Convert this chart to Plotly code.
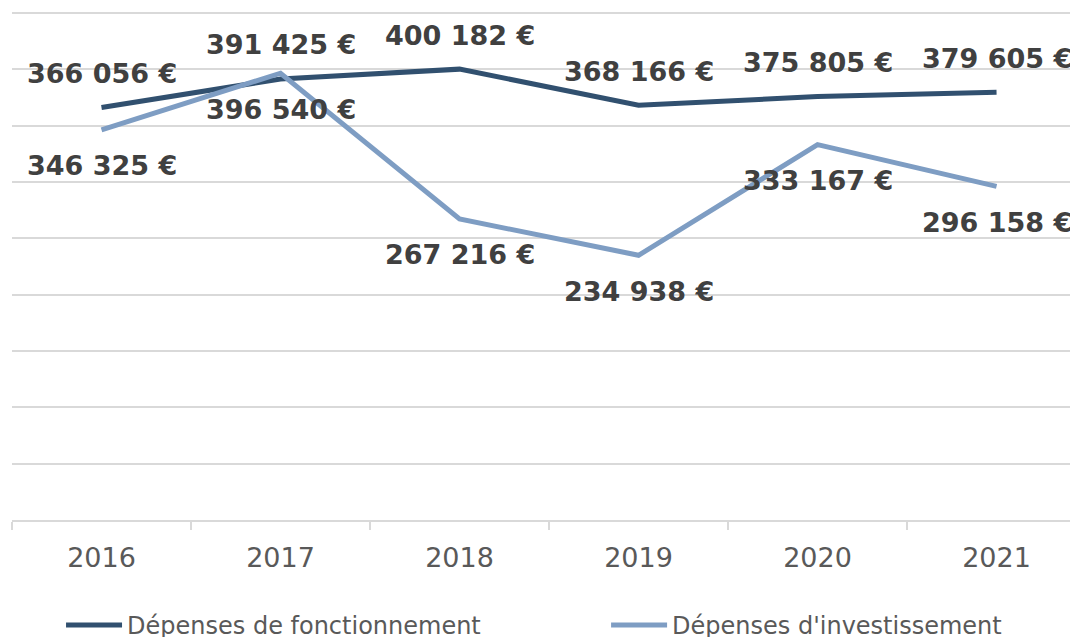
import plotly.graph_objects as go

years = ["2016", "2017", "2018", "2019", "2020", "2021"]
fonctionnement = [366056, 391425, 400182, 368166, 375805, 379605]
investissement = [346325, 396540, 267216, 234938, 333167, 296158]
name_f = "Dépenses de fonctionnement"
name_i = "Dépenses d'investissement"

col_f = "#31506F"
col_i = "#7E9DC3"
label_col = "#404040"
axis_col = "#595959"
grid_col = "#D9D9D9"
FONT = "DejaVu Sans"


def fmt(v):
    return "<b>" + f"{v:,}".replace(",", " ") + " €</b>"


fig = go.Figure()
fig.add_trace(go.Scatter(x=years, y=fonctionnement, mode="lines", name=name_f,
                         line=dict(color=col_f, width=5), hoverinfo="skip", legend="legend"))
fig.add_trace(go.Scatter(x=years, y=investissement, mode="lines", name=name_i,
                         line=dict(color=col_i, width=5), hoverinfo="skip", legend="legend2"))

# category index positions for annotations (numeric-looking category names)
for i, v in enumerate(fonctionnement):
    fig.add_annotation(x=i, y=v, xref="x", yref="y", text=fmt(v), showarrow=False,
                       yshift=34, font=dict(family=FONT, size=27, color=label_col))
for i, v in enumerate(investissement):
    fig.add_annotation(x=i, y=v, xref="x", yref="y", text=fmt(v), showarrow=False,
                       yshift=-36, font=dict(family=FONT, size=27, color=label_col))

leg_common = dict(orientation="h", xanchor="left", y=-0.162, yanchor="top",
                  font=dict(family=FONT, size=24, color=axis_col),
                  bgcolor="rgba(0,0,0,0)", itemwidth=56)

fig.update_layout(
    width=1070, height=629,
    margin=dict(l=4, r=0, t=0, b=117, autoexpand=False),
    paper_bgcolor="white", plot_bgcolor="white",
    font=dict(family=FONT, color=axis_col),
    showlegend=True,
    legend=dict(x=0.046, **leg_common),
    legend2=dict(x=0.5573, **leg_common),
    xaxis=dict(type="category", range=[-0.5, 5.455], showgrid=False,
               showline=True, linecolor=grid_col, linewidth=1.5,
               ticks="outside", tickson="boundaries", ticklen=8, tickcolor=grid_col, tickwidth=1.5,
               tickfont=dict(family=FONT, size=27, color=axis_col), ticklabelstandoff=13),
    yaxis=dict(range=[0, 454438], dtick=50000, showticklabels=False, showgrid=True,
               gridcolor=grid_col, gridwidth=1.5, zeroline=False, showline=False, ticks=""),
)

fig.write_html("out.html")
